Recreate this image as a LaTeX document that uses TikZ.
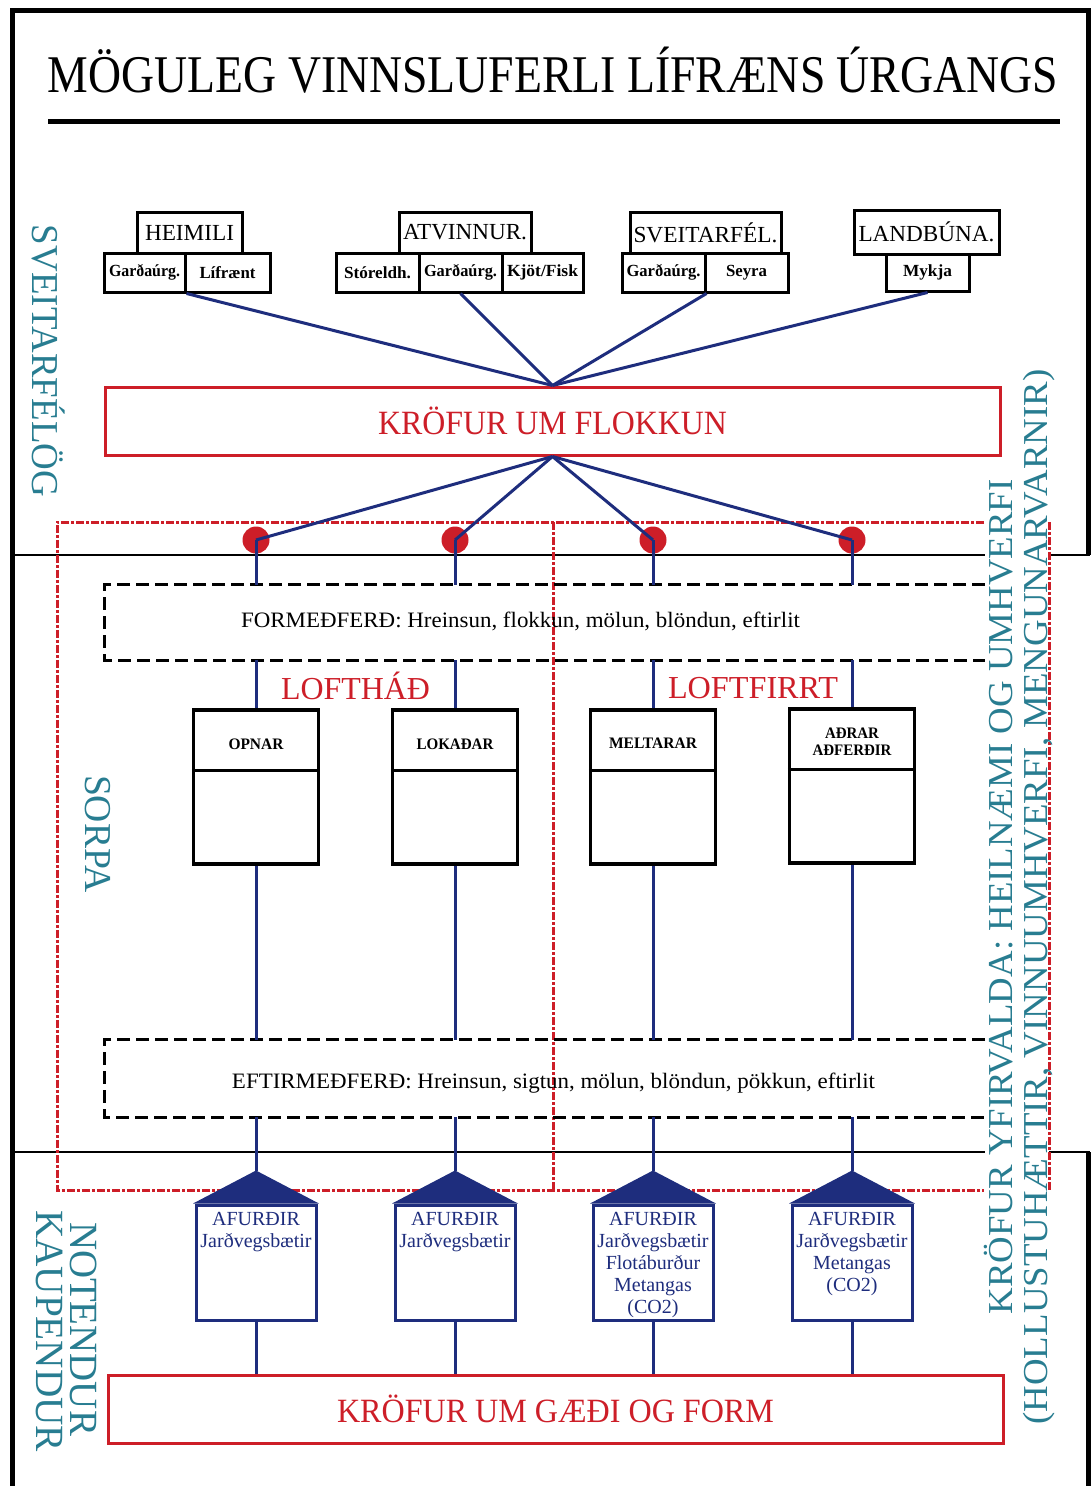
\documentclass[tikz,border=0pt]{standalone}
\usepackage{fontspec}
\setmainfont{Liberation Serif}
\usepackage{graphicx}
\definecolor{navy}{RGB}{30,45,125}
\definecolor{kred}{RGB}{205,30,40}
\definecolor{tealx}{RGB}{40,125,145}
\newcommand{\fw}[3]{\resizebox{#1pt}{\height}{\fontsize{#2}{#2}\selectfont #3}}
\begin{document}
\begin{tikzpicture}[x=1pt,y=-1pt,
  src/.style={draw=black, line width=3pt, inner sep=0pt, fill=white},
  rbox/.style={draw=kred, line width=3pt, inner sep=0pt, text=kred, minimum width=895pt, minimum height=68pt},
  proc/.style={draw=black, line width=3.2pt, inner sep=0pt, minimum width=125pt, minimum height=154pt},
  prod/.style={draw=navy, line width=3pt, inner sep=0pt, minimum width=120pt, minimum height=115pt},
  area/.style={inner sep=0pt, minimum width=880pt},
  conn/.style={draw=navy, line width=3pt},
  reddash/.style={draw=kred, line width=3pt, dash pattern=on 8pt off 2pt on 3pt off 2pt},
  blackdash/.style={draw=black, line width=3pt, dash pattern=on 13pt off 6pt},
  sepline/.style={draw=black, line width=2.5pt},
  frameline/.style={draw=black, line width=5pt},
  dotn/.style={circle, fill=kred, minimum size=27pt, inner sep=0pt},
  side/.style={text=tealx, inner sep=0pt, anchor=base},
  lbl/.style={inner sep=0pt, anchor=base},
  ptext/.style={anchor=north, align=center, inner sep=0pt, text=navy, font=\fontsize{20}{22}\selectfont}]
\fill[white] (0,0) rectangle (1090,1486);
\useasboundingbox (0,0) rectangle (1090,1486);

% frame
\draw[frameline] (12,1486) -- (12,10) -- (1088,10) -- (1088,555);
\draw[frameline] (1088,1152) -- (1088,1486);

% title
\node[lbl] (title) at (553,92) {\fw{1010}{53}{MÖGULEG VINNSLUFERLI LÍFRÆNS ÚRGANGS}};
\draw[line width=5pt] (48,121) -- (1060,121);

% separators
\draw[sepline] (12,555) -- (985,555);
\draw[sepline] (1049,555) -- (1090,555);
\draw[sepline] (12,1152) -- (985,1152);
\draw[sepline] (1049,1152) -- (1090,1152);

% red dashed zones
\draw[reddash] (984,522) -- (57,522) -- (57,1190) -- (984,1190);
\draw[reddash] (553,522) -- (553,1190);
\draw[reddash] (1049,522) -- (1049,1190);

% side labels
\node[side, rotate=-90] (svlab) at (32,361) {\fw{272}{38}{SVEITARFÉLÖG}};
\node[side, rotate=-90] (sorpa) at (85,834) {\fw{118}{38}{SORPA}};
\node[side, rotate=-90] (notl) at (70,1329) {\fw{214}{40}{NOTENDUR}};
\node[side, rotate=-90] (kaupl) at (36,1331) {\fw{242}{40}{KAUPENDUR}};
\node[side, rotate=90] (kr1) at (1012,897) {\fw{835}{35}{KRÖFUR YFIRVALDA: HEILNÆMI OG UMHVERFI}};
\node[side, rotate=90] (kr2) at (1047,897) {\fw{1055}{35}{(HOLLUSTUHÆTTIR, VINNUUMHVERFI, MENGUNARVARNIR)}};

% sources
\node[src, minimum width=105pt, minimum height=41pt] (hm) at (189.5,232.5) {\fw{89}{23}{HEIMILI}};
\node[src, minimum width=81pt, minimum height=39pt] (hm1) at (144.5,272.5) {\fw{71}{17}{\bfseries Garðaúrg.}};
\node[src, minimum width=85pt, minimum height=39pt] (hm2) at (227.5,272.5) {\fw{56}{17}{\bfseries Lífrænt}};

\node[src, minimum width=132pt, minimum height=41pt] (at) at (465,232.5) {\fw{124}{23}{ATVINNUR.}};
\node[src, minimum width=83pt, minimum height=39pt] (at1) at (377.5,272.5) {\fw{67}{17}{\bfseries Stóreldh.}};
\node[src, minimum width=83pt, minimum height=39pt] (at2) at (460.5,272.5) {\fw{73}{17}{\bfseries Garðaúrg.}};
\node[src, minimum width=81pt, minimum height=39pt] (at3) at (542.5,272.5) {\fw{71}{17}{\bfseries Kjöt/Fisk}};

\node[src, minimum width=151pt, minimum height=41pt] (sv) at (705.5,232.5) {\fw{144}{23}{SVEITARFÉL.}};
\node[src, minimum width=83pt, minimum height=39pt] (sv1) at (663.5,272.5) {\fw{74}{17}{\bfseries Garðaúrg.}};
\node[src, minimum width=83pt, minimum height=39pt] (sv2) at (746.5,272.5) {\fw{41}{17}{\bfseries Seyra}};

\node[src, minimum width=145pt, minimum height=44pt] (lb) at (926.5,232) {\fw{136}{23}{LANDBÚNA.}};
\node[src, minimum width=83pt, minimum height=37pt] (lb1) at (927.5,272.5) {\fw{49}{17}{\bfseries Mykja}};

% sorting requirements
\node[rbox] (flok) at (552.5,421) {\fw{349}{34}{KRÖFUR UM FLOKKUN}};

\draw[conn] (hm1.south east) -- (flok.north);
\draw[conn] (at2.south) -- (flok.north);
\draw[conn] (sv1.south east) -- (flok.north);
\draw[conn] (lb1.south) -- (flok.north);

% pre-treatment area
\node[area, minimum height=75pt] (pre) at (545,622.5) {};
\draw[blackdash] (pre.north east) -- (pre.north west) -- (pre.south west) -- (pre.south east);
\node[lbl] (pret) at (520.5,627) {\fw{559}{22}{FORMEÐFERÐ: Hreinsun, flokkun, mölun, blöndun, eftirlit}};

% post-treatment area
\node[area, minimum height=77pt] (post) at (545,1078.5) {};
\draw[blackdash] (post.north east) -- (post.north west) -- (post.south west) -- (post.south east);
\node[lbl] (postt) at (553.5,1088) {\fw{643}{22}{EFTIRMEÐFERÐ: Hreinsun, sigtun, mölun, blöndun, pökkun, eftirlit}};

% LOFTHÁÐ / LOFTFIRRT
\node[lbl, text=kred] (lh) at (355.5,699) {\fw{149}{32}{LOFTHÁÐ}};
\node[lbl, text=kred] (lf) at (753,698) {\fw{170}{32}{LOFTFIRRT}};

% dots
\node[dotn] (d1) at (256,540) {};
\node[dotn] (d2) at (455,540) {};
\node[dotn] (d3) at (653,540) {};
\node[dotn] (d4) at (852,540) {};

% process boxes
\node[proc] (p1) at (256,787) {};
\node[proc] (p2) at (455,787) {};
\node[proc] (p3) at (653,787) {};
\node[proc] (p4) at (852,786) {};
\foreach \p in {p1,p2,p3,p4}{
  \draw[line width=3.2pt] ([yshift=-62pt]\p.north west) -- ([yshift=-62pt]\p.north east);
}
\node[lbl] (p1t) at (256,749) {\fw{55}{16}{\bfseries OPNAR}};
\node[lbl] (p2t) at (455,749) {\fw{77}{16}{\bfseries LOKAÐAR}};
\node[lbl] (p3t) at (653,748) {\fw{88}{16}{\bfseries MELTARAR}};
\node[lbl] (p4t) at (852,738) {\fw{54}{16}{\bfseries AÐRAR}};
\node[lbl] (p4u) at (852,755) {\fw{79}{16}{\bfseries AÐFERÐIR}};

% products
\node[prod] (f1) at (256,1262.5) {};
\node[prod] (f2) at (455,1262.5) {};
\node[prod] (f3) at (653,1262.5) {};
\node[prod] (f4) at (852,1262.5) {};
\foreach \f in {f1,f2,f3,f4}{
  \fill[navy] ([xshift=-1.5pt]\f.north west) -- ([yshift=33pt]\f.north) -- ([xshift=1.5pt]\f.north east) -- cycle;
}
\node[ptext] (f1t) at (256,1212) {AFURÐIR\\Jarðvegsbætir};
\node[ptext] (f2t) at (455,1212) {AFURÐIR\\Jarðvegsbætir};
\node[ptext] (f3t) at (653,1212) {AFURÐIR\\Jarðvegsbætir\\Flotáburður\\Metangas\\(CO2)};
\node[ptext] (f4t) at (852,1212) {AFURÐIR\\Jarðvegsbætir\\Metangas\\(CO2)};

% quality requirements
\node[rbox] (gf) at (555.5,1409) {\fw{437}{34}{KRÖFUR UM GÆÐI OG FORM}};

% connectors
\foreach \i in {1,2,3,4}{
  \draw[conn] (flok.south) -- (d\i.center);
  \draw[conn] (d\i.center) -- (d\i.center |- pre.north);
  \draw[conn] (p\i.north |- pre.south) -- (p\i.north);
  \draw[conn] (p\i.south) -- (p\i.south |- post.north);
  \draw[conn] (f\i.north |- post.south) -- ([yshift=33pt]f\i.north);
  \draw[conn] (f\i.south) -- (f\i.south |- gf.north);
}
\end{tikzpicture}
\end{document}
